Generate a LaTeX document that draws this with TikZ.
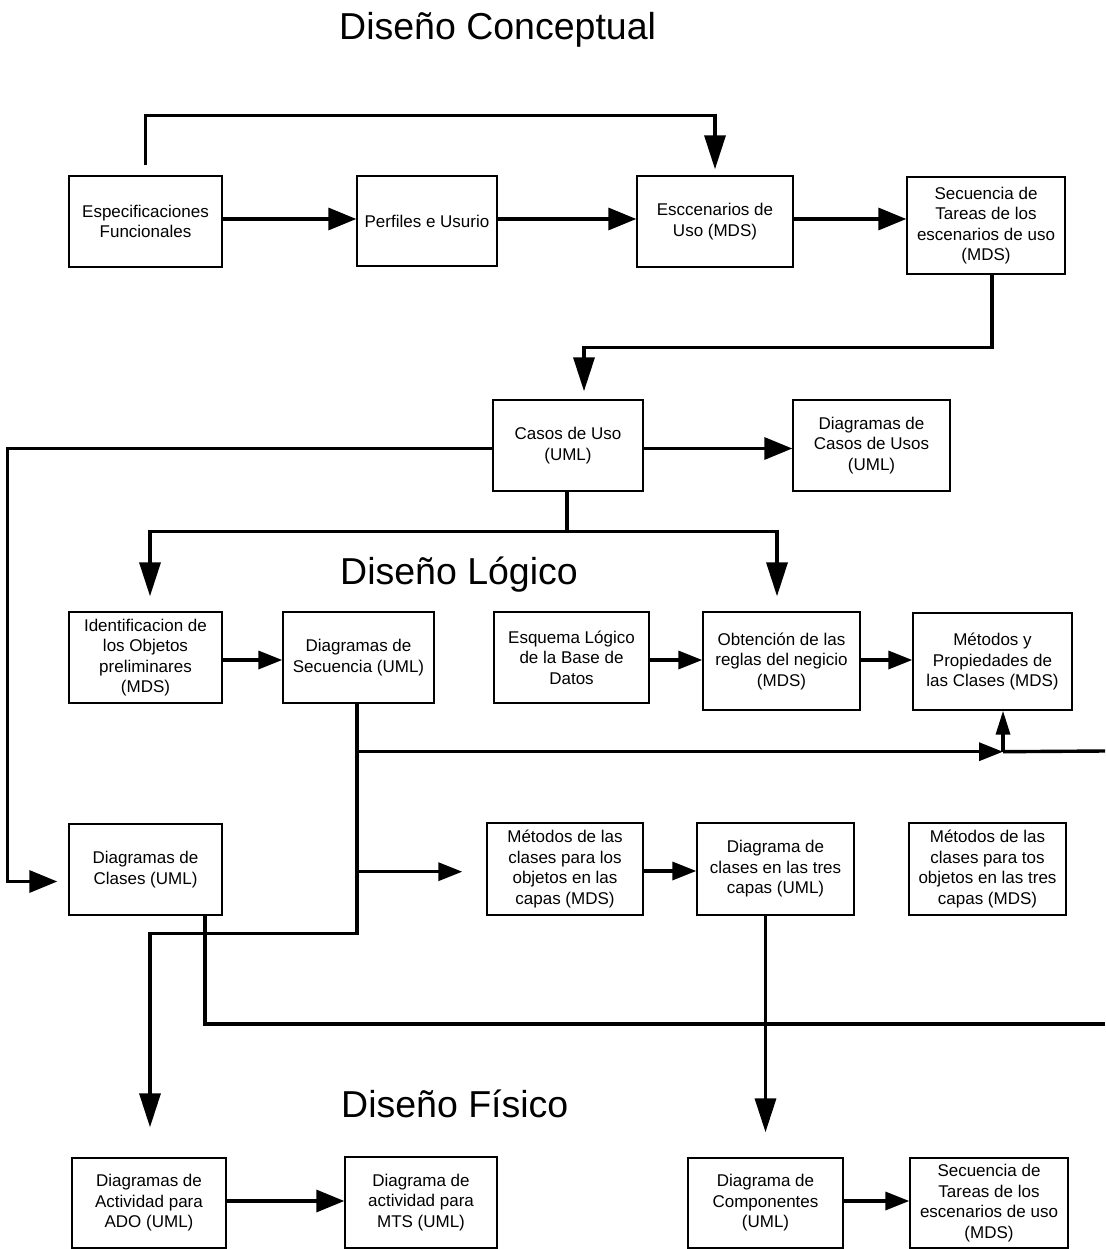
\documentclass[tikz,border=0pt]{standalone}
\usepackage{fontspec}
\setmainfont{Liberation Sans}
\usetikzlibrary{arrows.meta}
\begin{document}
\begin{tikzpicture}[x=1pt,y=-1pt,
  box/.style={draw, line width=1.4pt, align=center, inner sep=0pt,
    font=\fontsize{17}{20.5}\selectfont},
  conn/.style={line width=3.4pt},
  big/.style={conn, -{Triangle[length=34pt,width=21pt]}},
  mid/.style={conn, -{Triangle[length=28pt,width=22pt]}},
  small/.style={conn, -{Triangle[length=24pt,width=18pt]}},
  up/.style={conn, -{Triangle[length=24pt,width=14pt]}},
  title/.style={font=\fontsize{37.5}{40}\selectfont, inner sep=0pt, anchor=base west}]
\useasboundingbox (0,0) rectangle (1105,1249);

% section titles
\node[title] (t1) at (339,40) {Diseño Conceptual};
\node[title] (t2) at (340,584) {Diseño Lógico};
\node[title] (t3) at (341,1117) {Diseño Físico};

% conceptual design
\node[box, minimum width=153pt, minimum height=91pt] (n1) at (145.5,221.5) {Especificaciones\\Funcionales};
\node[box, minimum width=140pt, minimum height=90pt] (n2) at (427,221) {Perfiles e Usurio};
\node[box, minimum width=156pt, minimum height=91pt] (n3) at (715,221.5) {Esccenarios de\\Uso (MDS)};
\node[box, minimum width=158pt, minimum height=97pt] (n4) at (986,225.5) {Secuencia de\\Tareas de los\\escenarios de uso\\(MDS)};
\node[box, minimum width=150pt, minimum height=91pt] (n5) at (568,445.5) {Casos de Uso\\(UML)};
\node[box, minimum width=157pt, minimum height=91pt] (n6) at (871.5,445.5) {Diagramas de\\Casos de Usos\\(UML)};

% logical design
\node[box, minimum width=153pt, minimum height=91pt] (n7) at (145.5,657.5) {Identificacion de\\los Objetos\\preliminares\\(MDS)};
\node[box, minimum width=151pt, minimum height=91pt] (n8) at (358.5,657.5) {Diagramas de\\Secuencia (UML)};
\node[box, minimum width=155pt, minimum height=91pt] (n9) at (571.5,657.5) {Esquema Lógico\\de la Base de\\Datos};
\node[box, minimum width=157pt, minimum height=98pt] (n10) at (781.5,661) {Obtención de las\\reglas del negicio\\(MDS)};
\node[box, minimum width=159pt, minimum height=97pt] (n11) at (992.5,661.5) {Métodos y\\Propiedades de\\las Clases (MDS)};
\node[box, minimum width=153pt, minimum height=91pt] (n12) at (145.5,869.5) {Diagramas de\\Clases (UML)};
\node[box, minimum width=156pt, minimum height=92pt] (n13) at (565,869) {Métodos de las\\clases para los\\objetos en las\\capas (MDS)};
\node[box, minimum width=157pt, minimum height=92pt] (n14) at (775.5,869) {Diagrama de\\clases en las tres\\capas (UML)};
\node[box, minimum width=157pt, minimum height=92pt] (n15) at (987.5,869) {Métodos de las\\clases para tos\\objetos en las tres\\capas (MDS)};

% physical design
\node[box, minimum width=154pt, minimum height=90pt] (n16) at (149,1203) {Diagramas de\\Actividad para\\ADO (UML)};
\node[box, minimum width=152pt, minimum height=91pt] (n17) at (421,1202.5) {Diagrama de\\actividad para\\MTS (UML)};
\node[box, minimum width=155pt, minimum height=90pt] (n18) at (765.5,1203) {Diagrama de\\Componentes\\(UML)};
\node[box, minimum width=158pt, minimum height=90pt] (n19) at (989,1203) {Secuencia de\\Tareas de los\\escenarios de uso\\(MDS)};

% free ends at the right border
\coordinate (e1) at (1105,751);
\coordinate (e2) at (1105,1024);

% conceptual connectors
\draw[big] ([yshift=10pt]n1.north) -- ++(0,-50) -| ([yshift=6pt]n3.north);
\draw[mid] ([yshift=2.5pt]n1.east) -- ([yshift=2.5pt]n1.east -| n2.west);
\draw[mid] ([yshift=2pt]n2.east) -- ([yshift=2pt]n2.east -| n3.west);
\draw[mid] ([yshift=2.5pt]n3.east) -- ([yshift=2.5pt]n3.east -| n4.west);
\draw[big] ([xshift=6pt]n4.south) -- ++(0,73) -| ([xshift=16pt,yshift=8pt]n5.north);
\draw[mid] ([yshift=-3pt]n5.east) -- ([yshift=-3pt]n5.east -| n6.west);
\draw[mid] ([yshift=-3pt]n5.west) -- ++(-485,0) |- ([xshift=-11pt,yshift=-12pt]n12.west);

% branch below the use cases
\draw[conn] ([xshift=-1pt]n5.south) -- ++(0,40) coordinate (j1);
\draw[big] (j1) -| ([xshift=4.5pt,yshift=15pt]n7.north);
\draw[big] (j1) -| ([xshift=-4.5pt,yshift=15pt]n10.north);

% logical connectors
\draw[small] ([yshift=-2.5pt]n7.east) -- ([yshift=-2.5pt]n7.east -| n8.west);
\draw[small] ([yshift=-2.5pt]n9.east) -- ([yshift=-2.5pt]n9.east -| n10.west);
\draw[small] ([yshift=1pt]n10.east) -- ([yshift=1pt]n10.east -| n11.west);

\coordinate (b1) at ([xshift=-1.5pt,yshift=-48pt]n8.south);
\coordinate (b2) at ([xshift=-1.5pt,yshift=-168pt]n8.south);
\coordinate (m) at ([xshift=10.5pt]n11.south |- b1);
\draw[big] ([xshift=-1.5pt]n8.south) -- ++(0,230) -| ([xshift=1pt,yshift=30pt]n16.north);
\draw[small] (b1) -- (m);
\draw[conn] (m) -- (e1);
\draw[up] (m) -- ([xshift=10.5pt]n11.south);
\draw[small] (b2) -- ([xshift=-24pt]n13.west |- b2);
\draw[small] ([yshift=-2pt]n13.east) -- ([yshift=-2pt]n13.east -| n14.west);
\draw[conn] ([xshift=59.5pt]n12.south) |- (e2);
\draw[big] (n18.north |- n14.south) -- ([yshift=25pt]n18.north);

% physical connectors
\draw[mid] ([yshift=2pt]n16.east) -- ([yshift=2pt]n16.east -| n17.west);
\draw[small] ([yshift=2pt]n18.east) -- ([yshift=2pt]n18.east -| n19.west);
\end{tikzpicture}
\end{document}
